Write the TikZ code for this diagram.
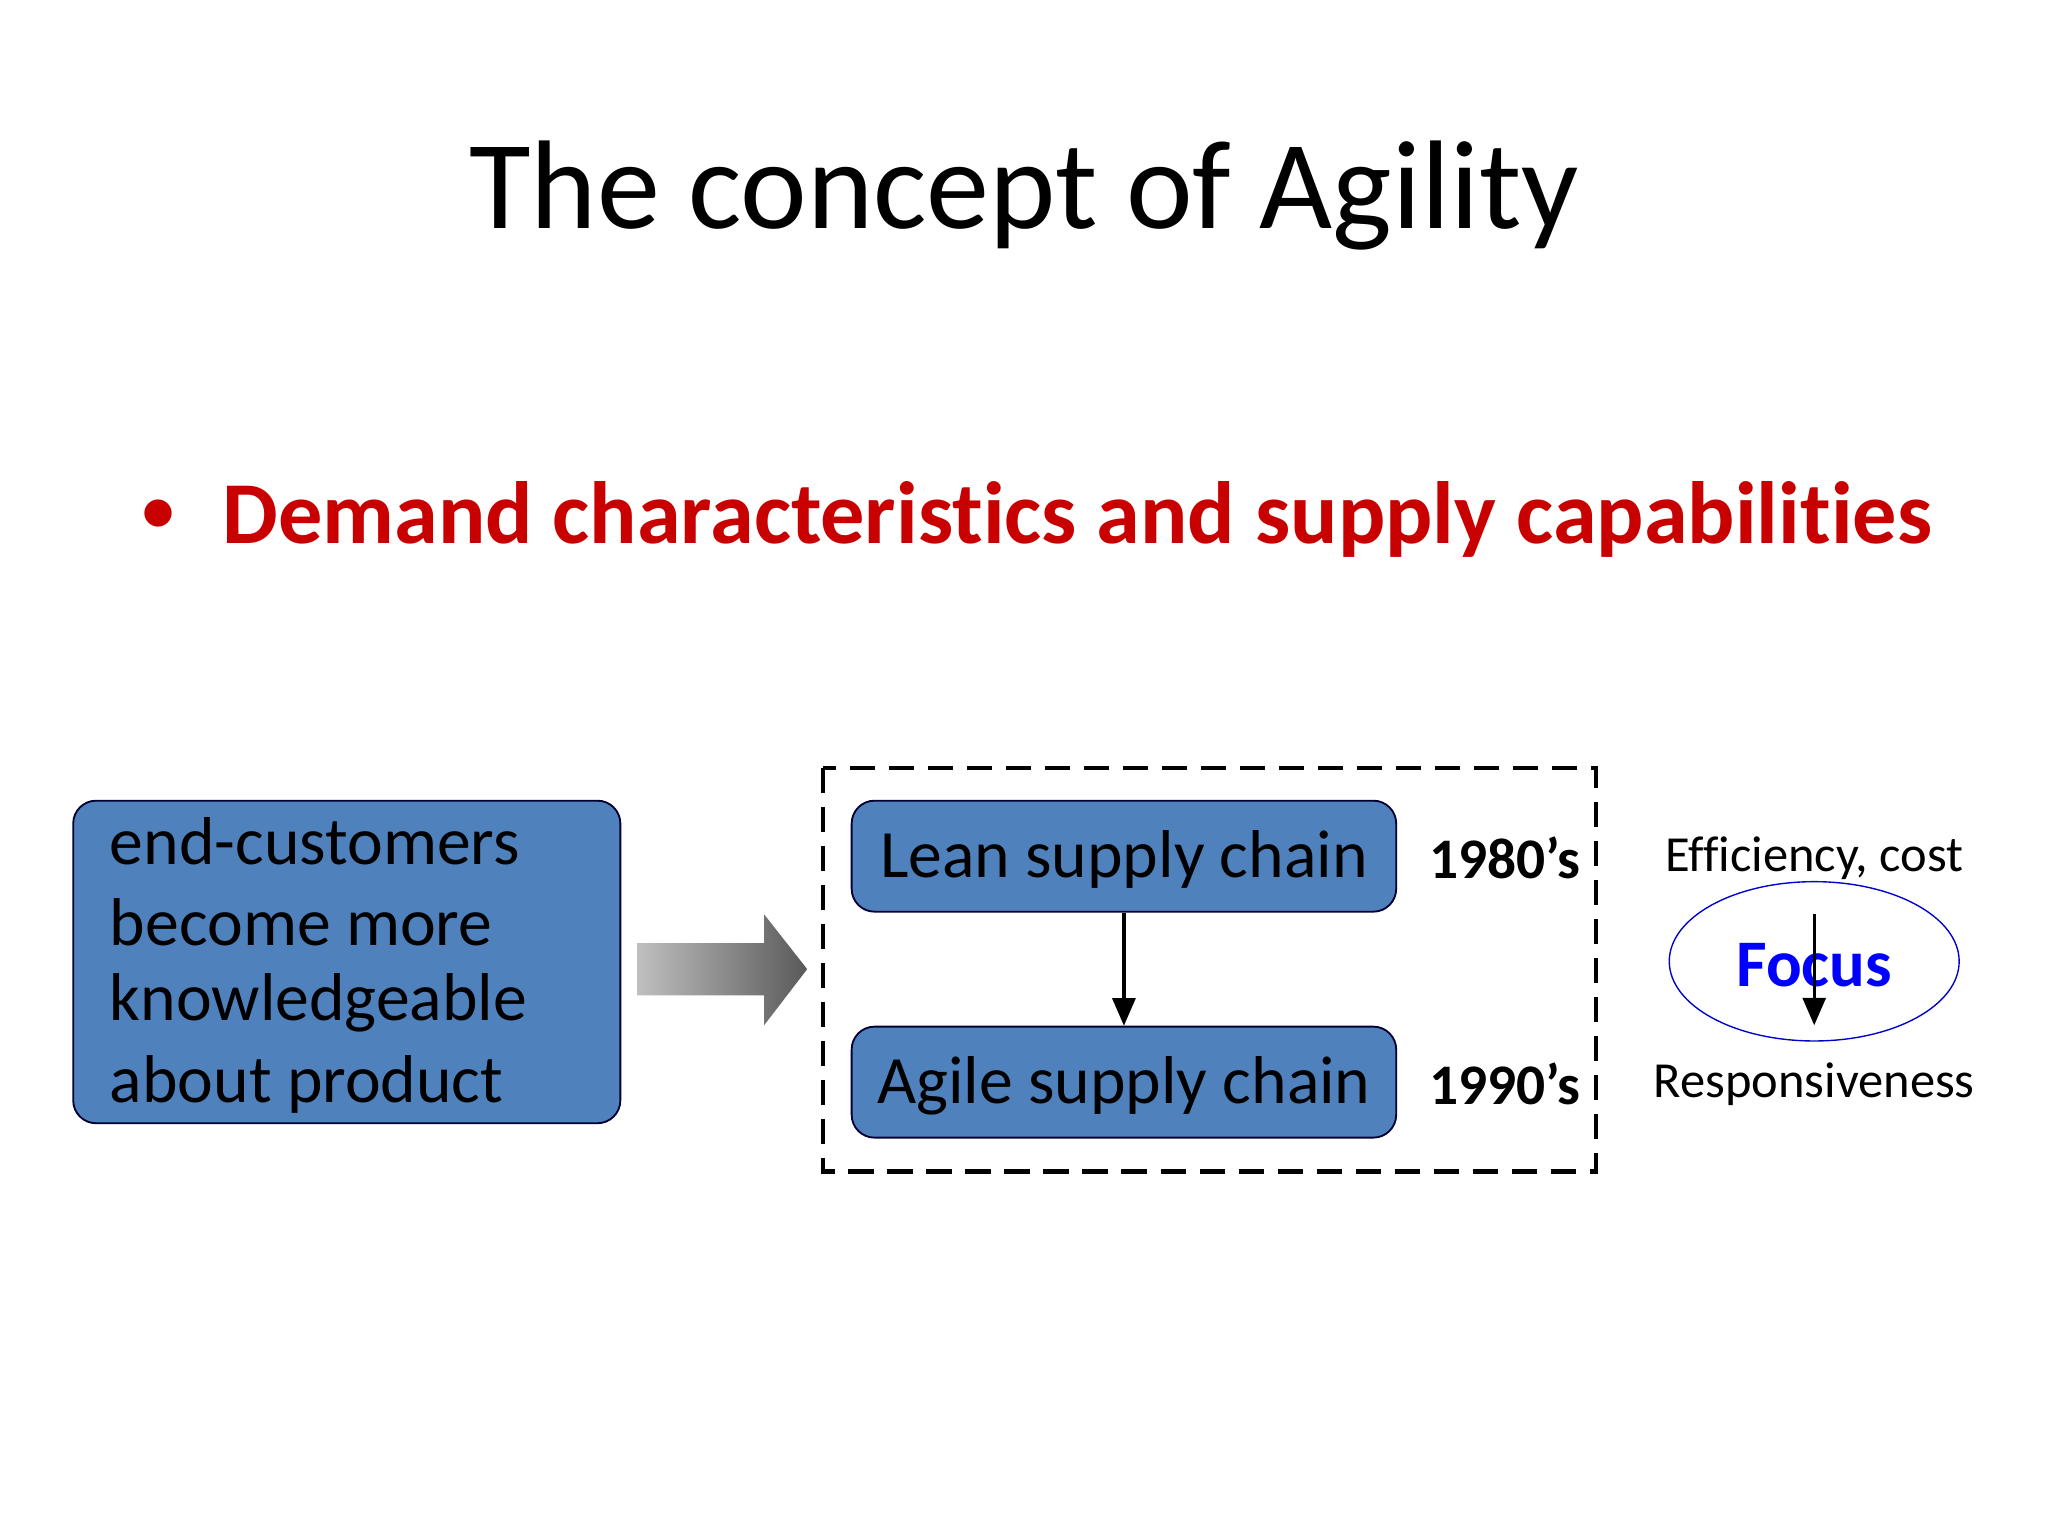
\documentclass[tikz,border=0pt]{standalone}
\usepackage{fontspec}
\setmainfont{Carlito}[Ligatures=NoCommon]
\usetikzlibrary{arrows.meta,shapes.geometric}
\definecolor{boxblue}{RGB}{79,129,189}
\definecolor{titlered}{RGB}{200,0,0}
\begin{document}
\begin{tikzpicture}[x=0.02cm,y=-0.02cm,
  bluebox/.style={draw=black!80!blue,fill=boxblue,rounded corners=0.35cm,line width=0.8pt,inner sep=0pt},
  yr/.style={font=\fontsize{25}{30}\selectfont\bfseries},
  side/.style={font=\fontsize{22}{26}\selectfont}]
\useasboundingbox (0,0) rectangle (1568,1176);
\node (title) at (784,150) {\fontsize{55}{66}\selectfont The concept of Agility};
\node[text=titlered] (dot) at (121,395) {\fontsize{28}{30}\selectfont\bfseries •};
\node[anchor=west,text=titlered,inner sep=0pt] (bul) at (170,398) {\fontsize{38.5}{46}\selectfont\bfseries Demand characteristics and supply capabilities};
\node[bluebox,minimum width=8.38cm,minimum height=4.94cm] (left) at (265.5,736.5) {};
\node[anchor=west] at (78,644) {\fontsize{29.5}{36}\selectfont end-customers};
\node[anchor=west] at (78,706) {\fontsize{29.5}{36}\selectfont become more};
\node[anchor=west] at (78,768) {\fontsize{29.5}{36}\selectfont knowledgeable};
\node[anchor=west] at (78,830) {\fontsize{29.5}{36}\selectfont about product};
\shade[left color=black!25,right color=black!65] (488,722) -- (585,722) -- (585,700) -- (618,742) -- (585,785) -- (585,762) -- (488,762) -- cycle;
\draw[line width=2pt,dash pattern=on 11pt off 6pt] (630,588) rectangle (1222,897);
\node[bluebox,minimum width=8.34cm,minimum height=1.7cm] (lean) at (860.5,655.5) {};
\node at (860.5,658) {\fontsize{29.5}{36}\selectfont Lean supply chain};
\node[bluebox,minimum width=8.34cm,minimum height=1.7cm] (agile) at (860.5,828.5) {};
\node at (860.5,831) {\fontsize{29.5}{36}\selectfont Agile supply chain};
\draw[-{Triangle[length=12pt,width=10pt]},line width=1.4pt] (lean) -- (agile);
\node[yr] (y1) at (1152,657) {1980’s};
\node[yr] (y2) at (1152,830) {1990’s};
\node[side] (eff) at (1389,657) {Efficiency, cost};
\node[draw=blue!80!black,ellipse,minimum width=4.44cm,minimum height=2.44cm,line width=0.6pt] (foc) at (1389,736) {};
\node[text=blue,font=\fontsize{29}{36}\selectfont\bfseries] at (1389,739) {Focus};
\coordinate (fa) at (1389,700);
\coordinate (fb) at (1389,785);
\draw[-{Triangle[length=12pt,width=10pt]},line width=1.4pt] (fa) -- (fb);
\node[side] (resp) at (1389,830) {Responsiveness};
\end{tikzpicture}
\end{document}
